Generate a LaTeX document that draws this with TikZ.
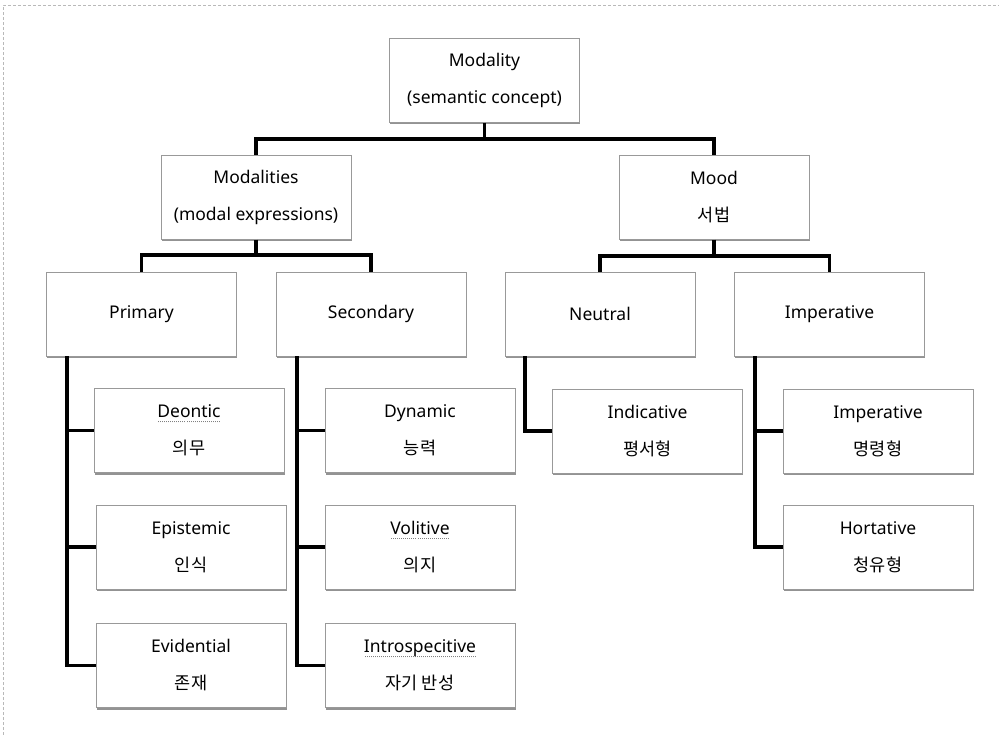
\documentclass[tikz,border=0pt]{standalone}
\usepackage{fontspec}
\setmainfont{Noto Sans}
\newfontfamily\krfam{Noto Sans CJK KR}
\newcommand{\kr}{\krfam\fontsize{17.5}{37}\selectfont}
\usetikzlibrary{shadows}
\newcommand{\sq}[1]{\setbox0\hbox{#1}\rlap{\raisebox{-4.5pt}{\color{gray}\hbox to \wd0{\xleaders\hbox to 2pt{\hss\rule{0.9pt}{0.9pt}\hss}\hfill}}}\box0}
\begin{document}
\begin{tikzpicture}[x=1pt,y=-1pt,
  box/.style={draw=gray!80, line width=0.7pt, fill=white,
    minimum width=190pt, minimum height=84pt, align=center, inner sep=0pt,
    font=\fontsize{17.5}{37}\selectfont,
    drop shadow={shadow xshift=0.5pt, shadow yshift=-2pt, fill=gray!85, opacity=1}},
  link/.style={line width=3.8pt, line join=miter}]
\useasboundingbox (0,0) rectangle (999,735);
\draw[gray!55, line width=0.8pt, densely dashed] (3,735) -- (3,5) -- (999,5);

% level 0
\node[box] (mod) at (484.5,80.5) {Modality\\(semantic concept)};
% level 1
\node[box] (mods) at (256,197.5) {Modalities\\(modal expressions)};
\node[box] (mood) at (714,197.5) {Mood\\{\kr 서법}};
% level 2
\node[box] (prim) at (141.5,314) {Primary};
\node[box] (sec) at (371,314) {Secondary};
\node[box] (neu) at (600,314) {Neutral};
\node[box] (imp) at (829.5,314) {Imperative};
% level 3
\node[box] (deo) at (189,430.5) {\sq{Deontic}\\{\kr 의무}};
\node[box] (epi) at (191,547) {Epistemic\\{\kr 인식}};
\node[box] (evi) at (191,665.5) {Evidential\\{\kr 존재}};
\node[box] (dyn) at (420,430.5) {Dynamic\\{\kr 능력}};
\node[box] (vol) at (420,547) {\sq{Volitive}\\{\kr 의지}};
\node[box] (intro) at (420,665.5) {\sq{Introspecitive}\\{\kr 자기 반성}};
\node[box] (ind) at (647.5,431) {Indicative\\{\kr 평서형}};
\node[box] (impc) at (878,431) {Imperative\\{\kr 명령형}};
\node[box] (hor) at (878,547) {Hortative\\{\kr 청유형}};

% connectors level 0 -> 1
\draw[link] (mod.south) -- ++(0,16) -| (mods.north);
\draw[link] (mod.south) -- ++(0,16) -| (mood.north);
% level 1 -> 2
\draw[link] (mods.south) -- ++(0,15) -| (prim.north);
\draw[link] (mods.south) -- ++(0,15) -| (sec.north);
\draw[link] (mood.south) -- ++(0,16) -| (neu.north);
\draw[link] (mood.south) -- ++(0,16) -| (imp.north);
% level 2 -> 3
\coordinate (pv) at ([xshift=21pt]prim.south west);
\coordinate (sv) at ([xshift=21pt]sec.south west);
\coordinate (nv) at ([xshift=20pt]neu.south west);
\coordinate (iv) at ([xshift=20.5pt]imp.south west);
\draw[link] (pv) |- (evi.west);
\draw[link] (pv) |- (deo.west);
\draw[link] (pv) |- (epi.west);
\draw[link] (sv) |- (intro.west);
\draw[link] (sv) |- (dyn.west);
\draw[link] (sv) |- (vol.west);
\draw[link] (nv) |- (ind.west);
\draw[link] (iv) |- (hor.west);
\draw[link] (iv) |- (impc.west);
\end{tikzpicture}
\end{document}
